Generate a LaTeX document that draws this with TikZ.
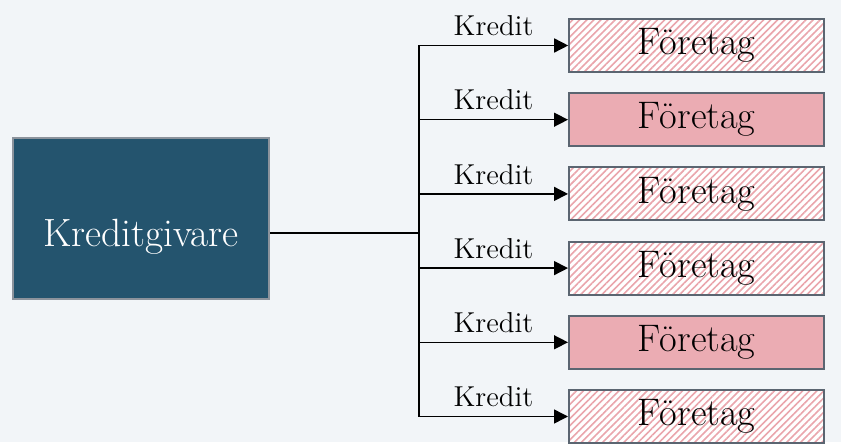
\documentclass[tikz,border=0pt]{standalone}
\usepackage{amsmath}
\usetikzlibrary{arrows.meta, patterns.meta, positioning}
\definecolor{giverblue}{RGB}{36,84,110}
\definecolor{boxgray}{RGB}{91,101,113}
\definecolor{firmpink}{RGB}{235,172,179}
\definecolor{hatchpink}{RGB}{234,165,172}
\definecolor{bgblue}{RGB}{242,245,248}
\tikzstyle{giver} = [rectangle, minimum width=128pt, minimum height=80.5pt, draw=boxgray!70, line width=1pt, fill=giverblue, text=white, text height=27.5pt, text depth=0pt, font=\fontsize{19.7}{22}\selectfont]
\tikzstyle{firm} = [rectangle, minimum width=127.5pt, minimum height=26.5pt, draw=boxgray, line width=1pt, font=\fontsize{19.2}{21}\selectfont]
\tikzstyle{loan} = [firm, fill=firmpink]
\tikzstyle{hatched} = [firm, preaction={fill=white}, pattern={Lines[angle=45, distance=2.5pt, line width=0.8pt]}, pattern color=hatchpink]
\tikzstyle{arrow} = [line width=0.75pt, -{Triangle[length=7pt, width=7pt]}]
\tikzstyle{line} = [line width=0.75pt]

\begin{document}
\begin{tikzpicture}[x=0.5pt, y=-0.5pt]

% background
\fill[bgblue] (0,0) rectangle (841,442);

% lender
\node[giver] (giver) at (141,218.5) {Kreditgivare};
\coordinate (hub) at (419,233);
\draw[line] (hub -| giver.east) -- (hub);

% firms
\foreach \i/\kind in {1/hatched, 2/loan, 3/hatched, 4/hatched, 5/loan, 6/hatched} {
  \node[\kind] (firm\i) at (696.5, {45.5 + (\i-1)*74.2}) {Företag};
  \coordinate (tap\i) at (hub |- firm\i.west);
  \draw[arrow] (tap\i) -- node[above=1pt, font=\fontsize{14.4}{16}\selectfont] (credit\i) {Kredit} (firm\i.west);
}
\draw[line] (tap1) -- (tap6);

\end{tikzpicture}
\end{document}
